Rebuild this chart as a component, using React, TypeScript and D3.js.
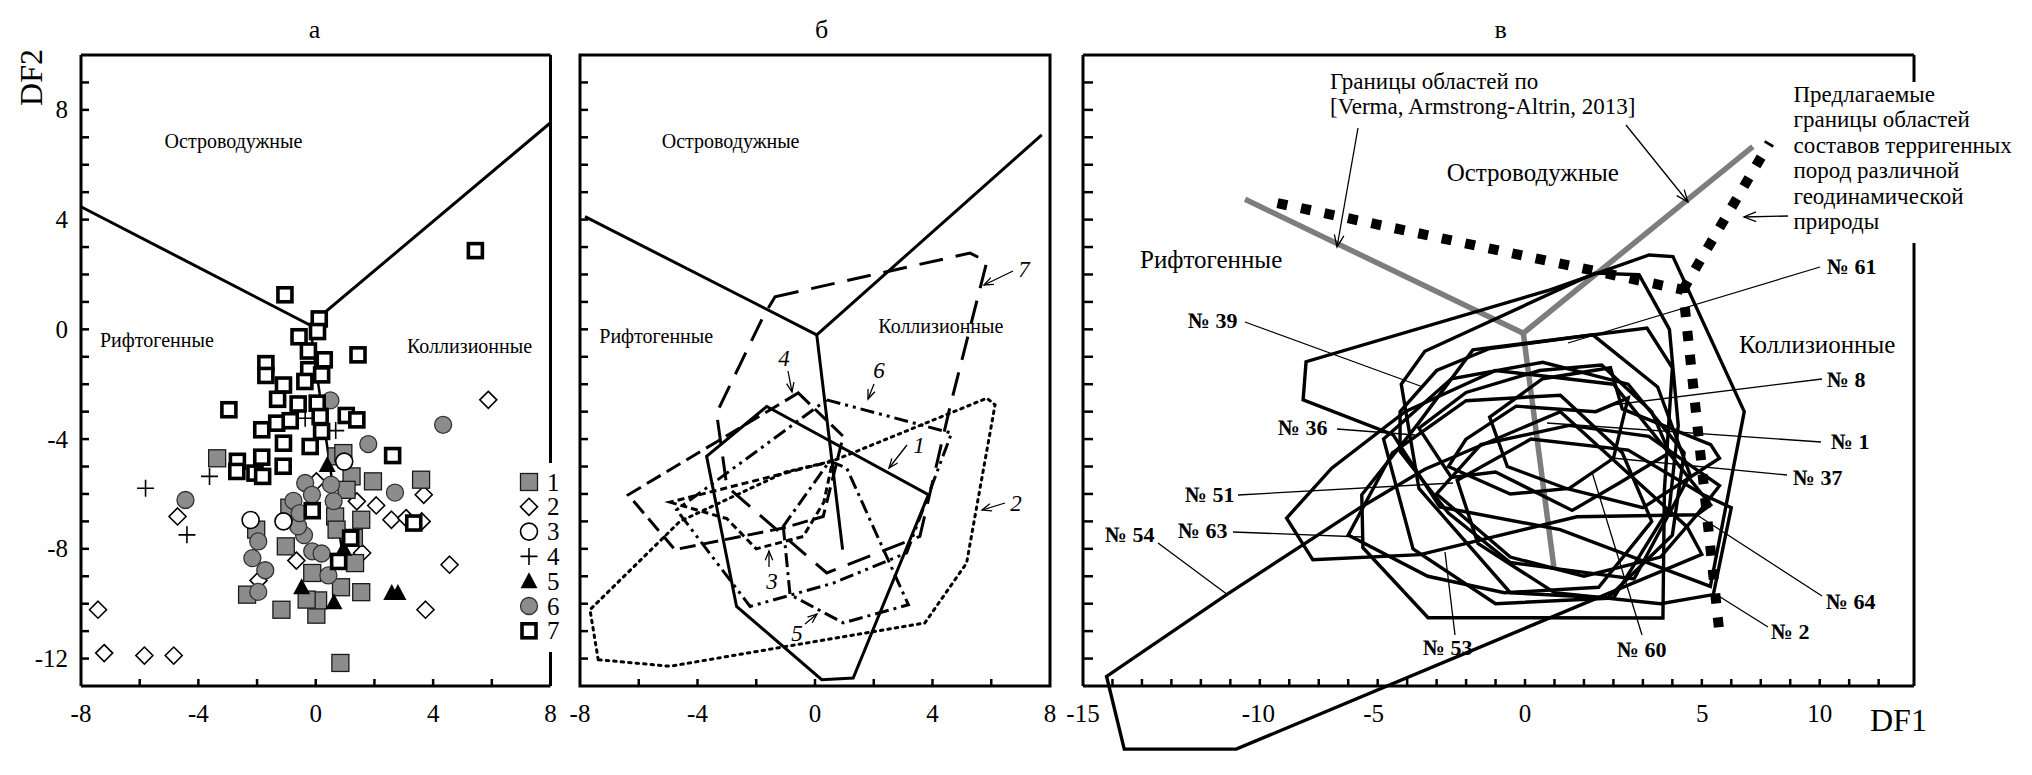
import React from "react";
import * as d3 from "d3";

type P = [number, number];

// ---------------- Panel а : data points (DF1, DF2) ----------------
const aSeries1: P[] = [
  [-3.36, -4.7], [1.22, -5.36], [1.95, -5.54], [3.59, -5.48], [1.55, -6.94], [-1.02, -7.91],
  [-0.12, -8.88], [0.86, -9.4], [1.55, -9.58], [-2.34, -9.67], [-1.17, -10.22], [0.02, -10.4],
  [0.08, -9.88], [0.84, -12.16], [-2.03, -7.3], [0.71, -4.63], [0.94, -4.51], [1.05, -5.85],
  [0.66, -6.82], [0.71, -7.3], [1.34, -8.52], [-0.31, -9.85], [1.3, -7.6], [-0.9, -6.5],
];
const aSeries2: P[] = [
  [5.88, -2.57], [3.68, -6.03], [1.4, -6.27], [2.06, -6.42], [2.58, -6.94], [3.08, -6.88],
  [3.61, -7.0], [1.58, -8.15], [-0.66, -8.43], [4.56, -8.58], [0.02, -5.54], [-4.71, -6.82],
  [-7.42, -10.22], [-7.21, -11.8], [-5.84, -11.89], [-4.84, -11.89], [3.74, -10.22], [-1.95, -9.15],
];
const aSeries3: P[] = [[0.97, -4.82], [-2.22, -6.95], [-1.1, -7.0]];
const aSeries4: P[] = [[-5.8, -5.79], [-4.39, -7.49], [-3.62, -5.36], [-0.36, -3.24], [0.68, -3.69]];
const aSeries5: P[] = [[0.39, -4.94], [-0.48, -9.4], [0.62, -9.95], [2.59, -9.61], [2.8, -9.61], [0.95, -8.0]];
const aSeries6: P[] = [
  [0.5, -2.59], [4.34, -3.48], [1.79, -4.18], [2.7, -5.95], [-4.44, -6.22], [-0.36, -5.6],
  [-0.13, -6.03], [-0.76, -6.25], [0.61, -6.26], [-0.4, -7.5], [-1.96, -7.73], [-2.16, -8.34],
  [-1.72, -8.78], [-1.96, -9.57], [-0.12, -8.09], [0.2, -8.17], [0.43, -8.97], [-0.6, -7.18],
  [-0.55, -6.7], [0.52, -5.66],
];
const aSeries7: P[] = [
  [-1.05, 1.26], [5.44, 2.87], [0.12, 0.38], [0.06, -0.08], [-0.57, -0.27], [-0.25, -0.79],
  [0.29, -1.11], [1.44, -0.93], [-1.7, -1.25], [-1.7, -1.68], [-0.24, -1.47], [-0.37, -1.9],
  [-1.1, -2.03], [0.2, -1.66], [-2.96, -2.93], [-1.3, -2.55], [-0.6, -2.72], [0.05, -2.69],
  [0.15, -3.18], [1.04, -3.14], [1.4, -3.3], [-1.84, -3.66], [-1.33, -3.42], [-0.87, -3.33],
  [-1.1, -4.15], [-0.19, -4.27], [2.62, -4.6], [-1.84, -4.66], [-2.67, -4.81], [-2.69, -5.18],
  [-2.07, -5.24], [-1.11, -4.99], [-1.81, -5.36], [-0.12, -6.61], [3.34, -7.06], [1.19, -7.61],
  [0.78, -8.46], [0.2, -3.72],
];
const legendLabels = ["1", "2", "3", "4", "5", "6", "7"];

// ---------------- Boundaries ----------------
const aBoundary: P[] = [[-8, 4.47], [-0.2, 0.16], [8, 7.53]];
const aBoundaryDown: P[] = [[-0.2, 0.16], [0.9, -8.1]];
const bBoundary: P[] = [[-7.83, 4.11], [0.06, -0.2], [7.72, 7.09]];
const bBoundaryDown: P[] = [[0.06, -0.2], [0.94, -8.03]];
const cVerma: P[] = [[-9.5, 4.74], [-0.06, -0.14], [7.73, 6.66]];
const cVermaDown: P[] = [[-0.06, -0.14], [0.99, -8.76]];
const cProposedMain: P[] = [[-8.4, 4.6], [5.36, 1.44], [6.62, -11.3]];
const cProposedBranch: P[] = [[5.36, 1.44], [8.3, 6.8]];

// ---------------- Panel б : fields ----------------
const bField1: P[] = [[-1.64, -2.81], [-3.69, -4.63], [-2.67, -10.1], [0.23, -12.77], [1.3, -12.71], [3.86, -6.03]];
const bField2: P[] = [[-7.38, -12.04], [-7.66, -10.22], [-4.6, -7.0], [-1.0, -5.2], [0.6, -4.8], [5.85, -2.51], [6.13, -2.75], [5.16, -8.52], [3.74, -10.7], [-4.94, -12.28]];
const bField3: P[] = [[-4.94, -6.3], [-3.0, -6.9], [-2.0, -8.0], [-0.4, -7.55], [0.3, -6.3], [0.6, -4.8]];
const bField4: P[] = [[-0.57, -2.32], [0.96, -3.9], [0.28, -6.82], [-1.08, -7.24], [-4.77, -8.03], [-6.36, -6.03]];
const bField5: P[] = [[-1.08, -7.18], [-0.85, -9.67], [0.96, -10.7], [3.18, -10.04], [1.08, -5.06], [0.5, -4.8]];
const bField6: P[] = [[0.4, -2.57], [4.65, -3.78], [3.12, -8.15], [0.62, -9.25], [-2.21, -10.1], [-4.71, -6.58]];
const bField7: P[] = [[-1.36, 1.19], [5.28, 2.78], [5.85, 2.47], [4.6, -2.81], [3.57, -7.55], [0.4, -8.88], [-3.0, -5.73], [-3.35, -3.05], [-1.76, 0.47]];
const bFields = [bField1, bField2, bField3, bField4, bField5, bField6, bField7];
const bDash = ["", "2.5 5", "7 4", "16 7", "14 5 3 5", "14 5 3 5 3 5", "24 13"];
const bFieldLabels = ["1", "2", "3", "4", "5", "6", "7"];

// ---------------- Panel в : sample fields ----------------
const c61: P[] = [[-7.43, -1.18], [-7.53, -2.57], [-4.48, -3.84], [-2.89, -6.47], [1.19, -7.3], [6.29, -9.37], [7.44, -3.0], [5.02, 2.65], [4.21, 2.71], [0.85, 1.44]];
const c39: P[] = [[-4.2, -2.0], [-3.4, -0.8], [2.37, 2.05], [3.87, 1.99], [4.9, 0.0], [5.2, -3.5], [4.9, -6.5], [3.0, -9.8], [-0.5, -9.6], [-3.6, -5.8]];
const c63: P[] = [[-5.54, -6.03], [-5.5, -7.96], [-3.29, -10.51], [4.68, -10.52], [4.73, -5.85], [5.0, -1.4], [4.14, 0.05], [-1.77, -0.75], [-3.6, -3.4]];
const c54: P[] = [[-14.2, -12.65], [-13.6, -15.3], [-9.8, -15.3], [6.0, -8.2], [5.5, -7.2], [1.2, -3.0], [-3.4, -5.1], [-5.6, -6.5], [-10.1, -9.65]];
const c51: P[] = [[-8.09, -6.88], [-6.56, -5.06], [-4.07, -3.0], [-1.0, -1.5], [3.0, -2.0], [6.3, -6.4], [5.83, -6.76], [1.76, -6.83], [-3.56, -8.21], [-7.2, -8.4]];
const c36: P[] = [[-4.24, -3.0], [-4.24, -4.45], [-2.6, -6.7], [-0.5, -8.5], [3.7, -9.1], [5.6, -5.3], [4.5, -2.1], [2.3, -0.2], [-1.2, -0.7], [-3.0, -1.5]];
const c1: P[] = [[-3.6, -3.6], [-2.0, -2.3], [0.5, -1.5], [2.6, -1.3], [4.3, -3.0], [4.9, -4.5], [3.2, -5.6], [1.6, -6.6], [-1.0, -5.2], [-2.5, -5.4]];
const c8: P[] = [[-1.2, -3.2], [0.6, -1.8], [2.9, -1.4], [3.3, -2.9], [6.3, -4.2], [6.6, -4.7], [4.0, -6.5], [1.4, -5.8], [-0.6, -5.0]];
const c37: P[] = [[-2.0, -4.0], [-0.3, -2.8], [2.4, -3.0], [3.5, -2.5], [3.0, -4.7], [1.5, -5.8], [-0.5, -6.0], [-2.6, -5.0]];
const c60: P[] = [[-4.8, -4.0], [-2.5, -1.8], [0.6, -1.2], [3.5, -2.0], [5.4, -4.5], [5.0, -7.5], [2.8, -9.8], [-1.0, -10.0], [-3.8, -8.0]];
const c53: P[] = [[-6.0, -7.5], [-4.5, -4.5], [-2.0, -2.6], [1.2, -2.4], [3.3, -4.5], [4.3, -7.0], [2.5, -9.4], [-0.7, -9.6], [-3.3, -9.0]];
const c64: P[] = [[-3.0, -6.0], [-1.5, -4.2], [1.5, -3.5], [4.2, -3.9], [6.6, -5.7], [5.83, -6.76], [4.6, -8.3], [2.0, -9.0], [-0.5, -8.3]];
const c2: P[] = [[-2.3, -5.5], [0.2, -4.0], [3.5, -4.4], [6.0, -6.0], [7.0, -6.5], [6.39, -9.67], [4.6, -10.0], [1.0, -9.6], [-1.6, -7.8]];
const cFields = [c61, c39, c63, c54, c51, c36, c1, c8, c37, c60, c53, c64, c2];

// sample labels: text, label anchor (px), leader end (px)
const cSampleNames = ["№ 61", "№ 8", "№ 1", "№ 37", "№ 64", "№ 2", "№ 60", "№ 53", "№ 54", "№ 63", "№ 51", "№ 36", "№ 39"];

// ---------------- Axes ----------------
const yTicks = d3.range(-12, 10);
const yLabels = [8, 4, 0, -4, -8, -12];
const abXTicks = [-6, -4, -2, 0, 2, 4, 6];
const abXLabels = [-8, -4, 0, 4, 8];
const cXTicks = d3.range(-14, 13);
const cXLabels = [-15, -10, -5, 0, 5, 10];
const cXLabelShift = [0, 28, -4, 0, 30, 0];

// ---------------- Layout ----------------
const TOP = 55, BOT = 686;
const yS = d3.scaleLinear().domain([-13, 10]).range([BOT, TOP]);
const xA = d3.scaleLinear().domain([-8, 8]).range([81, 550.5]);
const xB = d3.scaleLinear().domain([-8, 8]).range([580, 1050]);
const xC = d3.scaleLinear().domain([-15, 13.2]).range([1083, 1914]);

const FONT = "'Liberation Serif', 'Times New Roman', serif";
const GREY = "#8c8c8c";

function lineGen(x: d3.ScaleLinear<number, number>) {
  return d3.line<P>().x((d) => x(d[0])).y((d) => yS(d[1]));
}
function polyGen(x: d3.ScaleLinear<number, number>) {
  return d3.line<P>().x((d) => x(d[0])).y((d) => yS(d[1])).curve(d3.curveLinearClosed);
}

function arrowHead(x1: number, y1: number, x2: number, y2: number, len = 11, ang = 0.38) {
  const a = Math.atan2(y2 - y1, x2 - x1);
  const p1 = [x2 - len * Math.cos(a - ang), y2 - len * Math.sin(a - ang)];
  const p2 = [x2 - len * Math.cos(a + ang), y2 - len * Math.sin(a + ang)];
  return `M${p1[0]},${p1[1]}L${x2},${y2}L${p2[0]},${p2[1]}`;
}

function Arrow({ x1, y1, x2, y2, w = 1.3, len = 11 }: any) {
  return (
    <g stroke="#000" fill="none" strokeWidth={w}>
      <line x1={x1} y1={y1} x2={x2} y2={y2} />
      <path d={arrowHead(x1, y1, x2, y2, len)} />
    </g>
  );
}

function Marker({ kind, x, y }: { kind: number; x: number; y: number }) {
  switch (kind) {
    case 1:
      return <rect x={x - 8.5} y={y - 8.5} width={17} height={17} fill={GREY} stroke="#1a1a1a" strokeWidth={1.3} />;
    case 2:
      return <path d={`M${x},${y - 8.5}L${x + 8.5},${y}L${x},${y + 8.5}L${x - 8.5},${y}Z`} fill="#fff" stroke="#000" strokeWidth={1.6} />;
    case 3:
      return <circle cx={x} cy={y} r={8.5} fill="#fff" stroke="#000" strokeWidth={1.6} />;
    case 4:
      return <path d={`M${x - 8.5},${y}H${x + 8.5}M${x},${y - 8.5}V${y + 8.5}`} stroke="#000" strokeWidth={1.6} fill="none" />;
    case 5:
      return <path d={`M${x},${y - 9}L${x + 8.5},${y + 7}L${x - 8.5},${y + 7}Z`} fill="#000" />;
    case 6:
      return <circle cx={x} cy={y} r={8.5} fill={GREY} stroke="#333" strokeWidth={1.3} />;
    default:
      return <rect x={x - 7} y={y - 7} width={14} height={14} fill="#fff" stroke="#000" strokeWidth={3.6} />;
  }
}

function LeftTicks({ x0, len }: { x0: number; len: number }) {
  return (
    <g stroke="#000" strokeWidth={2.5}>
      {yTicks.map((t) => (
        <line key={t} x1={x0} x2={x0 + len} y1={yS(t)} y2={yS(t)} />
      ))}
    </g>
  );
}

function BottomTicks({ x, ticks, len }: { x: (v: number) => number; ticks: number[]; len: number }) {
  return (
    <g stroke="#000" strokeWidth={2.5}>
      {ticks.map((t) => (
        <line key={t} x1={x(t)} x2={x(t)} y1={BOT} y2={BOT - len} />
      ))}
    </g>
  );
}

export default function App() {
  const la = lineGen(xA);
  const lb = lineGen(xB);
  const lc = lineGen(xC);
  const pb = polyGen(xB);
  const pc = polyGen(xC);

  const aSeries = [aSeries2, aSeries1, aSeries6, aSeries3, aSeries4, aSeries5, aSeries7];
  const aKinds = [2, 1, 6, 3, 4, 5, 7];

  // panel б field label placement (layout, px)
  const bLabelPos = [
    { x: 919, y: 453, ax1: 907, ay1: 445, ax2: 889, ay2: 468 },
    { x: 1016, y: 511, ax1: 1005, ay1: 503, ax2: 982, ay2: 510 },
    { x: 772, y: 589, ax1: 769, ay1: 567, ax2: 769, ay2: 551 },
    { x: 784, y: 366, ax1: 788, ay1: 371, ax2: 792, ay2: 392 },
    { x: 797, y: 641, ax1: 805, ay1: 624, ax2: 817, ay2: 614 },
    { x: 879, y: 378, ax1: 874, ay1: 384, ax2: 868, ay2: 399 },
    { x: 1024, y: 277, ax1: 1013, ay1: 271, ax2: 984, ay2: 285 },
  ];

  // panel в sample label placement (layout, px): text x, baseline, leader start, leader end
  const cLabelPos = [
    { x: 1827, y: 274, l: [1820, 267, 1568, 343] },
    { x: 1827, y: 387, l: [1822, 379, 1612, 405] },
    { x: 1831, y: 449, l: [1821, 442, 1547, 423] },
    { x: 1793, y: 485, l: [1787, 475, 1612, 458] },
    { x: 1826, y: 609, l: [1822, 596, 1697, 515] },
    { x: 1771, y: 639, l: [1768, 627, 1717, 595] },
    { x: 1617, y: 657, l: [1642, 635, 1592, 472] },
    { x: 1423, y: 655, l: [1455, 635, 1445, 552] },
    { x: 1105, y: 542, l: [1158, 543, 1228, 595] },
    { x: 1178, y: 538, l: [1233, 532, 1362, 537] },
    { x: 1185, y: 502, l: [1238, 495, 1453, 483] },
    { x: 1278, y: 435, l: [1337, 429, 1415, 435] },
    { x: 1188, y: 328, l: [1245, 322, 1423, 387] },
  ];

  return (
    <svg
      width={2032}
      height={775}
      viewBox="0 0 2032 775"
      style={{ position: "absolute", left: 0, top: 0, background: "#fff" }}
      fontFamily={FONT}
    >
      <rect x={0} y={0} width={2032} height={775} fill="#fff" />

      {/* ================= Panel а ================= */}
      <g>
        <text x={314.5} y={38} fontSize={26} textAnchor="middle">а</text>
        <text transform="translate(42,77.5) rotate(-90)" fontSize={32} textAnchor="middle">DF2</text>
        <path d={la(aBoundaryDown) || ""} stroke="#000" strokeWidth={2.5} fill="none" />
        <path d={la(aBoundary) || ""} stroke="#000" strokeWidth={3} fill="none" />
        <text x={164.6} y={148} fontSize={20}>Островодужные</text>
        <text x={100} y={347} fontSize={20}>Рифтогенные</text>
        <text x={407} y={353} fontSize={20}>Коллизионные</text>
        {aSeries.map((s, i) =>
          s.map((d, j) => <Marker key={`${i}-${j}`} kind={aKinds[i]} x={xA(d[0])} y={yS(d[1])} />)
        )}
        {/* frame */}
        <g stroke="#000" strokeWidth={3} fill="none">
          <line x1={81} x2={550.5} y1={TOP} y2={TOP} />
          <line x1={81} x2={550.5} y1={BOT} y2={BOT} />
          <line x1={81} x2={81} y1={TOP} y2={BOT} />
          <line x1={550.5} x2={550.5} y1={TOP} y2={463} />
          <line x1={550.5} x2={550.5} y1={652} y2={BOT} />
        </g>
        <LeftTicks x0={81} len={8} />
        <BottomTicks x={xA} ticks={abXTicks} len={7} />
        {yLabels.map((t) => (
          <text key={t} x={68} y={yS(t) + 8.5} fontSize={25} textAnchor="end">{t}</text>
        ))}
        {abXLabels.map((t) => (
          <text key={t} x={xA(t)} y={722} fontSize={25} textAnchor="middle">{t}</text>
        ))}
        {/* legend */}
        {legendLabels.map((l, i) => {
          const ly = 482 + i * 24.8;
          return (
            <g key={l}>
              <Marker kind={i + 1} x={529} y={ly} />
              <text x={547} y={ly + 8.5} fontSize={25}>{l}</text>
            </g>
          );
        })}
      </g>

      {/* ================= Panel б ================= */}
      <g>
        <text x={821.7} y={38} fontSize={26} textAnchor="middle">б</text>
        <path d={lb(bBoundary) || ""} stroke="#000" strokeWidth={3} fill="none" />
        <path d={lb(bBoundaryDown) || ""} stroke="#000" strokeWidth={3} fill="none" />
        <text x={661.7} y={148} fontSize={20}>Островодужные</text>
        <text x={599.3} y={343} fontSize={20}>Рифтогенные</text>
        <text x={878.3} y={333} fontSize={20}>Коллизионные</text>
        {bFields.map((f, i) => (
          <path
            key={i}
            d={pb(f) || ""}
            fill="none"
            stroke="#000"
            strokeWidth={i === 1 ? 3 : 3}
            strokeDasharray={bDash[i] || undefined}
            strokeLinecap={i === 1 ? "round" : "butt"}
          />
        ))}
        {bFieldLabels.map((l, i) => {
          const p = bLabelPos[i];
          return (
            <g key={l}>
              <text x={p.x} y={p.y} fontSize={23} fontStyle="italic" textAnchor="middle">{l}</text>
              <Arrow x1={p.ax1} y1={p.ay1} x2={p.ax2} y2={p.ay2} w={1.3} len={10} />
            </g>
          );
        })}
        <rect x={580} y={TOP} width={470} height={BOT - TOP} fill="none" stroke="#000" strokeWidth={3} />
        <LeftTicks x0={580} len={8} />
        <BottomTicks x={xB} ticks={abXTicks} len={7} />
        {abXLabels.map((t) => (
          <text key={t} x={xB(t)} y={722} fontSize={25} textAnchor="middle">{t}</text>
        ))}
      </g>

      {/* ================= Panel в ================= */}
      <g>
        <text x={1500.7} y={38} fontSize={26} textAnchor="middle">в</text>
        {/* frame */}
        <g stroke="#000" strokeWidth={3} fill="none">
          <line x1={1083} x2={1914} y1={TOP} y2={TOP} />
          <line x1={1083} x2={1914} y1={BOT} y2={BOT} />
          <line x1={1083} x2={1083} y1={TOP} y2={BOT} />
          <line x1={1914} x2={1914} y1={TOP} y2={82} />
          <line x1={1914} x2={1914} y1={243} y2={BOT} />
        </g>
        <LeftTicks x0={1083} len={10} />
        <BottomTicks x={xC} ticks={cXTicks} len={7} />
        {cXLabels.map((t, i) => (
          <text key={t} x={xC(t) + cXLabelShift[i]} y={722} fontSize={25} textAnchor="middle">{t}</text>
        ))}
        <text x={1870} y={731} fontSize={32}>DF1</text>

        {/* Verma boundaries (grey) */}
        <path d={lc(cVerma) || ""} stroke="#7d7d7d" strokeWidth={5.5} fill="none" />
        <path d={lc(cVermaDown) || ""} stroke="#7d7d7d" strokeWidth={5.5} fill="none" />

        {/* sample fields */}
        {cFields.map((f, i) => (
          <path key={i} d={pc(f) || ""} fill="none" stroke="#000" strokeWidth={3.4} strokeLinejoin="miter" />
        ))}

        {/* proposed boundaries */}
        <path d={lc(cProposedMain) || ""} stroke="#000" strokeWidth={10} strokeDasharray="10 14" fill="none" />
        <path d={lc(cProposedBranch) || ""} stroke="#000" strokeWidth={10} strokeDasharray="10 14" fill="none" />

        {/* region labels */}
        <text x={1446.7} y={181} fontSize={25}>Островодужные</text>
        <text x={1140} y={268} fontSize={25}>Рифтогенные</text>
        <text x={1739} y={353} fontSize={25}>Коллизионные</text>

        {/* annotations */}
        <text x={1330} y={89} fontSize={23}>Границы областей по</text>
        <text x={1330} y={114} fontSize={23}>[Verma, Armstrong-Altrin, 2013]</text>
        <Arrow x1={1358} y1={128} x2={1337} y2={247} w={1.3} len={13} />
        <Arrow x1={1626} y1={125} x2={1688} y2={202} w={1.3} len={13} />
        {["Предлагаемые", "границы областей", "составов терригенных", "пород различной", "геодинамической", "природы"].map(
          (t, i) => (
            <text key={t} x={1793.5} y={102 + i * 25.4} fontSize={23}>{t}</text>
          )
        )}
        <Arrow x1={1788} y1={216} x2={1744} y2={217} w={1.3} len={13} />

        {/* sample labels */}
        {cSampleNames.map((n, i) => {
          const p = cLabelPos[i];
          return (
            <g key={n}>
              <line x1={p.l[0]} y1={p.l[1]} x2={p.l[2]} y2={p.l[3]} stroke="#000" strokeWidth={1.3} />
              <text x={p.x} y={p.y} fontSize={22} fontWeight="bold">{n}</text>
            </g>
          );
        })}
      </g>
    </svg>
  );
}
